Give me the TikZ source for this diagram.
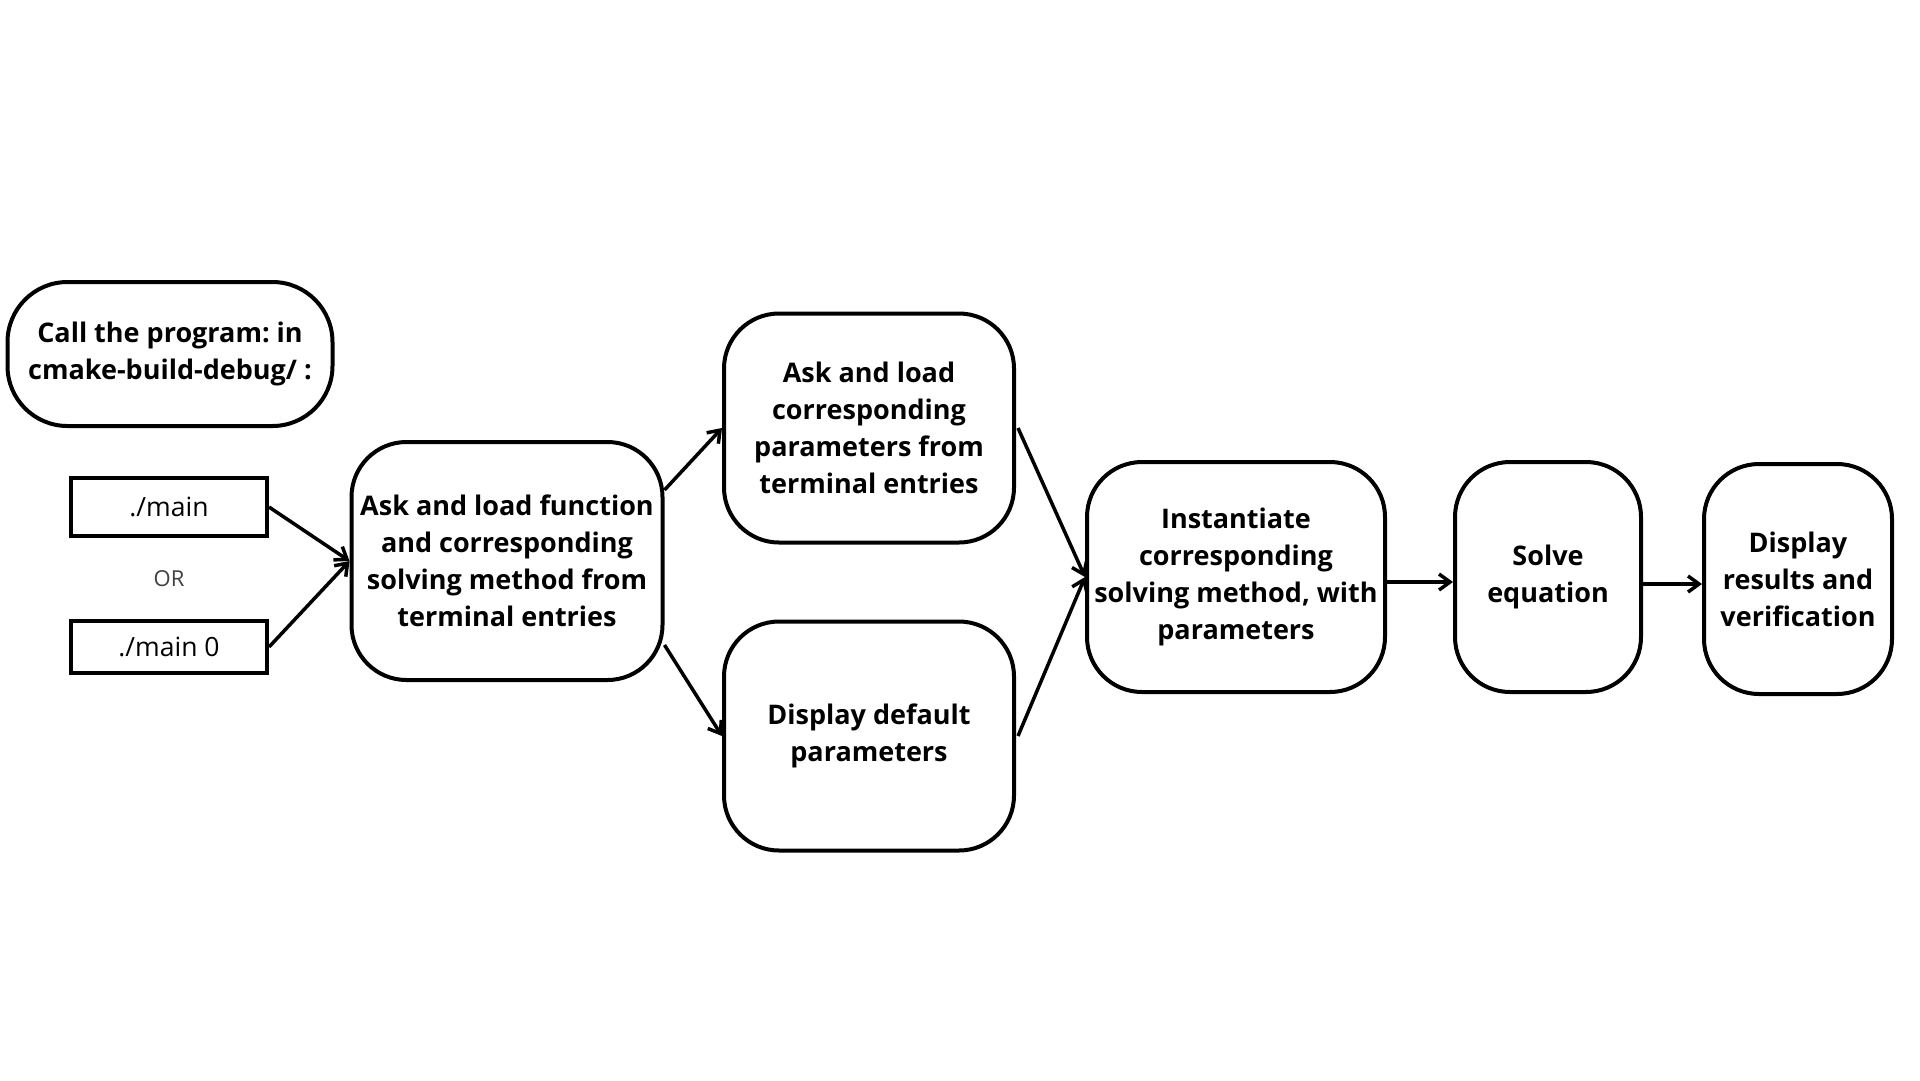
\documentclass[tikz,border=0pt]{standalone}
\usepackage{fontspec}
\setmainfont{Open Sans}
\frenchspacing
\usetikzlibrary{arrows.meta}
\begin{document}
\begin{tikzpicture}[x=1pt,y=-1pt,
  box/.style={draw=black, line width=4pt, rounded corners=55pt, align=center,
    inner sep=0pt, font=\bfseries\fontsize{27}{37}\selectfont},
  cmdbox/.style={draw=black, line width=4pt, align=center, inner sep=0pt,
    minimum width=196pt, font=\fontsize{26.5}{37}\selectfont},
  conn/.style={line width=3.5pt, -{Straight Barb[length=11pt,width=16pt,line width=3.5pt]}}
]
\useasboundingbox[fill=white] (0,0) rectangle (1920,1080);

\node[box, rounded corners=60pt, minimum width=325pt, minimum height=144pt] (call) at (170,354)
  {Call the program: in\\cmake-build-debug/ :};
\node[cmdbox, minimum height=58pt] (m1) at (169,507) {./main};
\node[font=\fontsize{22}{26}\selectfont, text=black!75] (or) at (169,579) {OR};
\node[cmdbox, minimum height=52pt] (m0) at (169,647) {./main 0};

\node[box, minimum width=311pt, minimum height=238pt] (f) at (507,561)
  {Ask and load function\\and corresponding\\solving method from\\terminal entries};
\node[box, minimum width=290pt, minimum height=229pt] (p) at (869,428)
  {Ask and load\\corresponding\\parameters from\\terminal entries};
\node[box, minimum width=290pt, minimum height=229pt] (d) at (869,736)
  {Display default\\parameters};
\node[box, minimum width=298pt, minimum height=230pt] (i) at (1236,577)
  {Instantiate\\corresponding\\solving method, with\\parameters};
\node[box, minimum width=186pt, minimum height=230pt] (s) at (1548,577)
  {Solve\\equation};
\node[box, minimum width=188pt, minimum height=230pt] (r) at (1798,579)
  {Display\\results and\\verification};

\draw[conn] (m1.east) -- (f.west);
\draw[conn] (m0.east) -- (f.west);
\draw[conn] ([yshift=71pt]f.east) -- (p.west);
\draw[conn] ([yshift=-84pt]f.east) -- (d.west);
\draw[conn] ([xshift=2pt]p.east) -- (i.west);
\draw[conn] ([xshift=2pt]d.east) -- (i.west);
\draw[conn] ([yshift=-5pt]i.east) -- ([yshift=-5pt]i.east -| s.west);
\draw[conn] ([yshift=-7pt]s.east) -- ([yshift=-7pt]s.east -| r.west);
\end{tikzpicture}
\end{document}
